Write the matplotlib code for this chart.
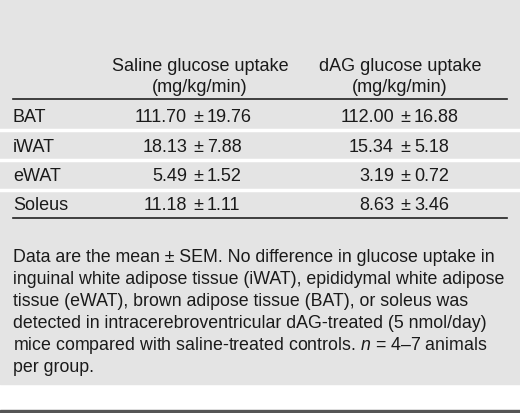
import matplotlib
matplotlib.use("Agg")
import matplotlib.pyplot as plt
from matplotlib.patches import Rectangle

tissues = ["BAT", "iWAT", "eWAT", "Soleus"]
saline_mean = ["111.70", "18.13", "5.49", "11.18"]
saline_sem = ["19.76", "7.88", "1.52", "1.11"]
dag_mean = ["112.00", "15.34", "3.19", "8.63"]
dag_sem = ["16.88", "5.18", "0.72", "3.46"]
headers = ["Saline glucose uptake\n(mg/kg/min)", "dAG glucose uptake\n(mg/kg/min)"]
footnote = [
    "Data are the mean \u00b1 SEM. No difference in glucose uptake in",
    "inguinal white adipose tissue (iWAT), epididymal white adipose",
    "tissue (eWAT), brown adipose tissue (BAT), or soleus was",
    "detected in intracerebroventricular dAG-treated (5 nmol/day)",
    "mice compared with saline-treated controls. $\\it{n}$ = 4\u20137 animals",
    "per group.",
]

plt.rcParams['font.family'] = ['Liberation Sans', 'DejaVu Sans']
plt.rcParams['mathtext.fontset'] = 'custom'
plt.rcParams['mathtext.it'] = 'Liberation Sans:italic'
fig = plt.figure(figsize=(5.2, 4.14), dpi=100)
ax = fig.add_axes([0, 0, 1, 1])
ax.set_xlim(0, 520); ax.set_ylim(414, 0); ax.axis('off')
bg = "#e4e4e4"; tc = "#1a1a1a"
ax.add_patch(Rectangle((0, 0), 520, 385, color=bg, zorder=0))
ax.add_patch(Rectangle((0, 411), 520, 3, color="#555555", zorder=0))

fs = 13
for cx, h in zip([200, 400], headers):
    ax.text(cx, 77, h, ha='center', va='center', fontsize=fs, color=tc, linespacing=1.3)
ax.plot([13, 507], [100, 100], color="#222222", lw=1.2)
ax.plot([13, 507], [219, 219], color="#222222", lw=1.2)

rows_y = [118, 148, 177, 206]
for y in [131, 161, 191]:
    ax.plot([0, 520], [y, y], color="white", lw=2.5)
for i, y in enumerate(rows_y):
    ax.text(13, y, tissues[i], ha='left', va='center', fontsize=fs, color=tc)
    for pm, m, s in [(198, saline_mean[i], saline_sem[i]), (405, dag_mean[i], dag_sem[i])]:
        ax.text(pm - 11, y, m, ha='right', va='center', fontsize=fs, color=tc)
        ax.text(pm, y, "\u00b1", ha='center', va='center', fontsize=fs, color=tc)
        ax.text(pm + 9, y, s, ha='left', va='center', fontsize=fs, color=tc)

for k, line in enumerate(footnote):
    ax.text(13, 258 + 22 * k, line, ha='left', va='center', fontsize=12.8, color=tc)

fig.savefig("out.png", dpi=100, facecolor="white")
